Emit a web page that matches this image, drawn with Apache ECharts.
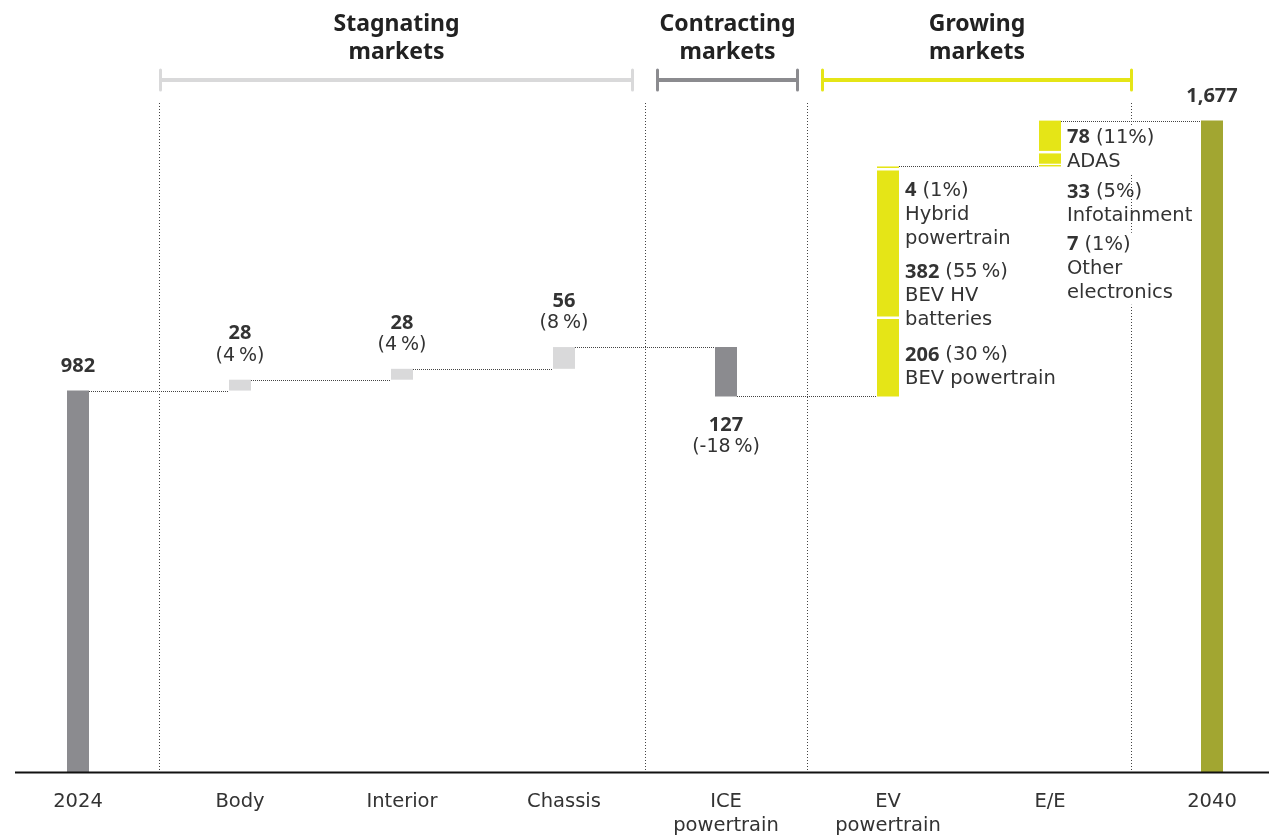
<!DOCTYPE html>
<html><head><meta charset="utf-8">
<script src="https://cdn.jsdelivr.net/npm/echarts@6/dist/echarts.min.js"></script>
<style>html,body{margin:0;padding:0;background:#fff}#c{width:1269px;height:839px}</style>
</head><body><div id="c"></div>
<script>
// ---------- data ----------
const categories = ['2024', 'Body', 'Interior', 'Chassis', 'ICE\npowertrain', 'EV\npowertrain', 'E/E', '2040'];
const startTotal = 982;
const endTotal = 1677;
const stepDeltas = [28, 28, 56, -127];            // Body, Interior, Chassis, ICE powertrain
const stepShares = ['4\u2009%', '4\u2009%', '8\u2009%', '-18\u2009%'];
const evNames = ['BEV powertrain', 'BEV HV\nbatteries', 'Hybrid\npowertrain'];   // bottom -> top
const evValues = [206, 382, 4];
const evShares = ['30\u2009%', '55\u2009%', '1%'];
const eeNames = ['Other\nelectronics', 'Infotainment', 'ADAS'];                  // bottom -> top
const eeValues = [7, 33, 78];
const eeShares = ['1%', '5%', '11%'];
const groupTitles = ['Stagnating\nmarkets', 'Contracting\nmarkets', 'Growing\nmarkets'];

// ---------- style ----------
const FONT = 'DejaVu Sans';
const BFONT = 'Noto Sans';
const C_TOTAL = '#8b8b8f', C_LIGHT = '#d9d9da', C_YELLOW = '#e5e517', C_OLIVE = '#a2a631';
const BAR_W = 22, GAP = 2.5;
const evLabelOffsets = [27, 92, 12];
const eeLabelOffsets = [69, 29, 5];
const eeLabelBg = [true, false, true];
const fmtNum = v => v.toLocaleString('en-US');

// ---------- build waterfall segments ----------
const segments = [];
const connectors = [];
let running = startTotal;
segments.push({cat: 0, lo: 0, hi: startTotal, color: C_TOTAL, lab: 'top', text: '{b|' + fmtNum(startTotal) + '}'});
connectors.push({from: 0, level: running});
stepDeltas.forEach((d, i) => {
  const cat = i + 1;
  const lo = d >= 0 ? running : running + d;
  const hi = d >= 0 ? running + d : running;
  segments.push({cat, lo, hi, color: d >= 0 ? C_LIGHT : C_TOTAL, lab: d >= 0 ? 'top' : 'bottom',
    text: '{b|' + Math.abs(d) + '}\n{n|(' + stepShares[i] + ')}'});
  running += d;
  connectors.push({from: cat, level: running});
});
function addStack(cat, values, names, shares, offsets, bgs) {
  values.forEach((v, i) => {
    const lines = names[i].split('\n').map(s => '{s|' + s + '}').join('\n');
    segments.push({cat, lo: running, hi: running + v, color: C_YELLOW, lab: 'side',
      gapAbove: i < values.length - 1, off: offsets[i], bg: bgs ? bgs[i] : false,
      text: '{sb|' + v + '} {s|(' + shares[i] + ')}\n' + lines});
    running += v;
  });
  connectors.push({from: cat, level: running});
}
addStack(5, evValues, evNames, evShares, evLabelOffsets, null);
addStack(6, eeValues, eeNames, eeShares, eeLabelOffsets, eeLabelBg);
segments.push({cat: 7, lo: 0, hi: endTotal, color: C_OLIVE, lab: 'top', text: '{b|' + fmtNum(endTotal) + '}'});

const rich = {
  b: {fontFamily: BFONT, fontWeight: 'bold', fontSize: 20, lineHeight: 22, color: '#222'},
  n: {fontFamily: FONT, fontSize: 19, lineHeight: 22, color: '#333'},
  sb: {fontFamily: BFONT, fontWeight: 'bold', fontSize: 20, lineHeight: 24, color: '#222'},
  s: {fontFamily: FONT, fontSize: 19.5, lineHeight: 24, color: '#333'}
};

function renderBar(params, api) {
  const s = segments[params.dataIndex];
  const pLo = api.coord([api.value(0), api.value(1)]);
  const pHi = api.coord([api.value(0), api.value(2)]);
  const x = pLo[0] - BAR_W / 2;
  const yBot = pLo[1];
  let yTop = pHi[1];
  if (s.gapAbove) yTop = Math.min(yTop + GAP, yBot - 1.5);
  const children = [{type: 'rect', shape: {x, y: yTop, width: BAR_W, height: yBot - yTop}, style: {fill: s.color}}];
  let t;
  if (s.lab === 'top') {
    t = {x: pLo[0], y: pHi[1] - 13, style: {align: 'center', verticalAlign: 'bottom'}};
  } else if (s.lab === 'bottom') {
    t = {x: pLo[0], y: yBot + 18, style: {align: 'center', verticalAlign: 'top'}};
  } else {
    t = {x: x + BAR_W + 6, y: pHi[1] + s.off, style: {align: 'left', verticalAlign: 'top'}};
    if (s.bg) { t.style.backgroundColor = '#fff'; t.style.padding = [0, 2, 0, 0]; }
  }
  t.type = 'text';
  t.z2 = 10;
  Object.assign(t.style, {text: s.text, rich, fontFamily: FONT, fontSize: 19, fill: '#333'});
  children.push(t);
  return {type: 'group', children};
}

function renderConnector(params, api) {
  const c = connectors[params.dataIndex];
  const p1 = api.coord([c.from, c.level]);
  const p2 = api.coord([c.from + 1, c.level]);
  const y = Math.round(p1[1]) + 0.5;
  return {type: 'line', shape: {x1: p1[0] + BAR_W / 2, y1: y, x2: p2[0] - BAR_W / 2, y2: y},
    style: {stroke: '#444', lineWidth: 1, lineDash: [1, 1]}};
}

const chart = echarts.init(document.getElementById('c'), null, {renderer: 'canvas'});
chart.setOption({
  animation: false,
  backgroundColor: '#fff',
  grid: {left: -3, right: -24, top: 34, bottom: 67, containLabel: false, outerBoundsMode: 'none'},
  xAxis: {
    type: 'category', data: categories,
    axisLine: {show: false}, axisTick: {show: false}, splitLine: {show: false},
    axisLabel: {margin: 18, fontFamily: FONT, fontSize: 19.5, lineHeight: 24, color: '#333', interval: 0}
  },
  yAxis: {type: 'value', min: 0, max: 1900, show: false, splitLine: {show: false}},
  series: [
    {type: 'custom', name: 'connectors', renderItem: renderConnector, z: 1,
      data: connectors.map(c => [c.from, c.level]), encode: {x: 0, y: 1}, silent: true},
    {type: 'custom', name: 'bars', renderItem: renderBar, z: 3,
      data: segments.map(s => [s.cat, s.lo, s.hi]), encode: {x: 0, y: [1, 2]}, clip: false}
  ]
});

// ---------- annotations (dividers, brackets, group titles, baseline) ----------
const px = i => chart.convertToPixel({gridIndex: 0}, [i, 0]);
const y0 = px(0)[1];
const dividerAfter = [0, 3, 4, 6];
const dividerX = dividerAfter.map(i => Math.round((px(i)[0] + px(i + 1)[0]) / 2) + 0.5);
const bracketColors = [C_LIGHT, C_TOTAL, C_YELLOW];
const bracketPads = [[1, 13], [12, 10], [15, 0]];
const graphics = [];
dividerX.forEach(x => graphics.push({type: 'line', z: 0, silent: true,
  shape: {x1: x, y1: 103, x2: x, y2: y0}, style: {stroke: '#444', lineWidth: 1, lineDash: [1, 2]}}));
groupTitles.forEach((t, g) => {
  const xa = dividerX[g] + bracketPads[g][0], xb = dividerX[g + 1] - bracketPads[g][1];
  const col = bracketColors[g];
  graphics.push({type: 'line', z: 1, shape: {x1: xa, y1: 80, x2: xb, y2: 80}, style: {stroke: col, lineWidth: 4}});
  graphics.push({type: 'line', z: 1, shape: {x1: xa, y1: 70, x2: xa, y2: 90}, style: {stroke: col, lineWidth: 3, lineCap: 'round'}});
  graphics.push({type: 'line', z: 1, shape: {x1: xb, y1: 70, x2: xb, y2: 90}, style: {stroke: col, lineWidth: 3, lineCap: 'round'}});
  graphics.push({type: 'text', z: 1, x: (xa + xb) / 2, y: 10,
    style: {text: t, align: 'center', verticalAlign: 'top', fontFamily: BFONT, fontWeight: 'bold',
      fontSize: 23, lineHeight: 28, fill: '#222'}});
});
graphics.push({type: 'line', z: 5, shape: {x1: 15, y1: y0 + 0.5, x2: 1269, y2: y0 + 0.5},
  style: {stroke: '#111', lineWidth: 2}});
chart.setOption({graphic: graphics});
</script>
</body></html>
